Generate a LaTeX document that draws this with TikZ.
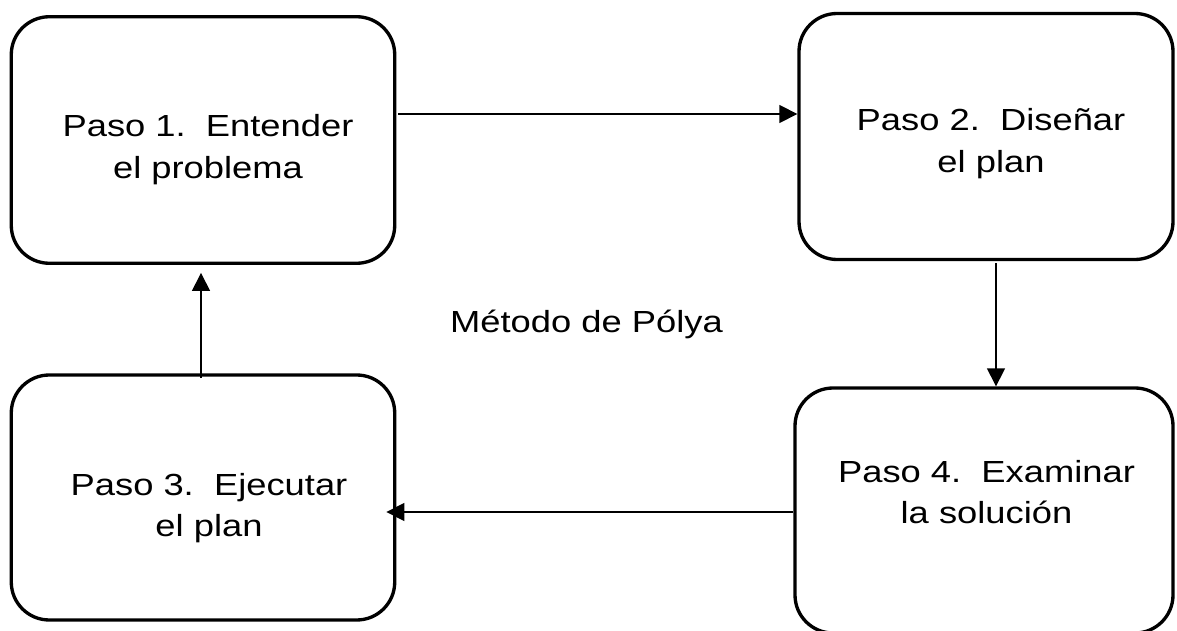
\documentclass[tikz,border=0pt]{standalone}
\usepackage{fontspec}
\setmainfont{Liberation Sans}[FakeStretch=1.19]
\usetikzlibrary{arrows.meta}

\tikzset{
  stepbox/.style={draw=black, line width=2.5pt, rounded corners=28.5pt,
    rectangle, inner sep=0pt},
  steptext/.style={align=center, inner sep=0pt,
    font=\fontsize{22.9pt}{31.3pt}\selectfont},
  conn/.style={draw=black, line width=1pt,
    -{Triangle[length=13.5pt, width=13.5pt]}},
}

\begin{document}
\begin{tikzpicture}[x=0.75pt, y=-0.75pt]
  % canvas (1177 x 631 units), also clips the lower box
  \clip (0,0) rectangle (1177,631);
  \fill[white] (0,0) rectangle (1177,631);

  % the four step boxes
  \node[stepbox, minimum width=287.6pt, minimum height=184.9pt] (b1) at (203,140) {};
  \node[stepbox, minimum width=280.5pt, minimum height=184.5pt] (b2) at (986,136.5) {};
  \node[stepbox, minimum width=287.6pt, minimum height=183.75pt] (b3) at (203,497.5) {};
  \node[stepbox, minimum width=283.5pt, minimum height=183.75pt] (b4) at (984,510.5) {};

  % box captions
  \node[steptext] (t1) at (208,149.7) {Paso 1.\ \ Entender\\el problema};
  \node[steptext] (t2) at (991,143.7) {Paso 2.\ \ Diseñar\\el plan};
  \node[steptext] (t3) at (209,508) {Paso 3.\ \ Ejecutar\\el plan};
  \node[steptext] (t4) at (986.5,492) {Paso 4.\ \ Examinar\\la solución};

  % title in the middle
  \node[steptext, anchor=base] (title) at (586.5,332) {Método de Pólya};

  % connector guides
  \coordinate (h12) at (0,114);
  \coordinate (v24) at (996,0);
  \coordinate (h43) at (0,512);
  \coordinate (v31) at (201,0);

  % cycle of arrows
  \draw[conn, shorten <=1.2pt] (b1.east |- h12) -- (b2.west |- h12);
  \draw[conn, shorten <=1.5pt] (b2.south -| v24) -- (b4.north -| v24);
  \draw[conn, shorten >=-7.5pt] (b4.west |- h43) -- (b3.east |- h43);
  \draw[conn, shorten <=-3.5pt, shorten >=6pt] (b3.north -| v31) -- (b1.south -| v31);
\end{tikzpicture}
\end{document}
